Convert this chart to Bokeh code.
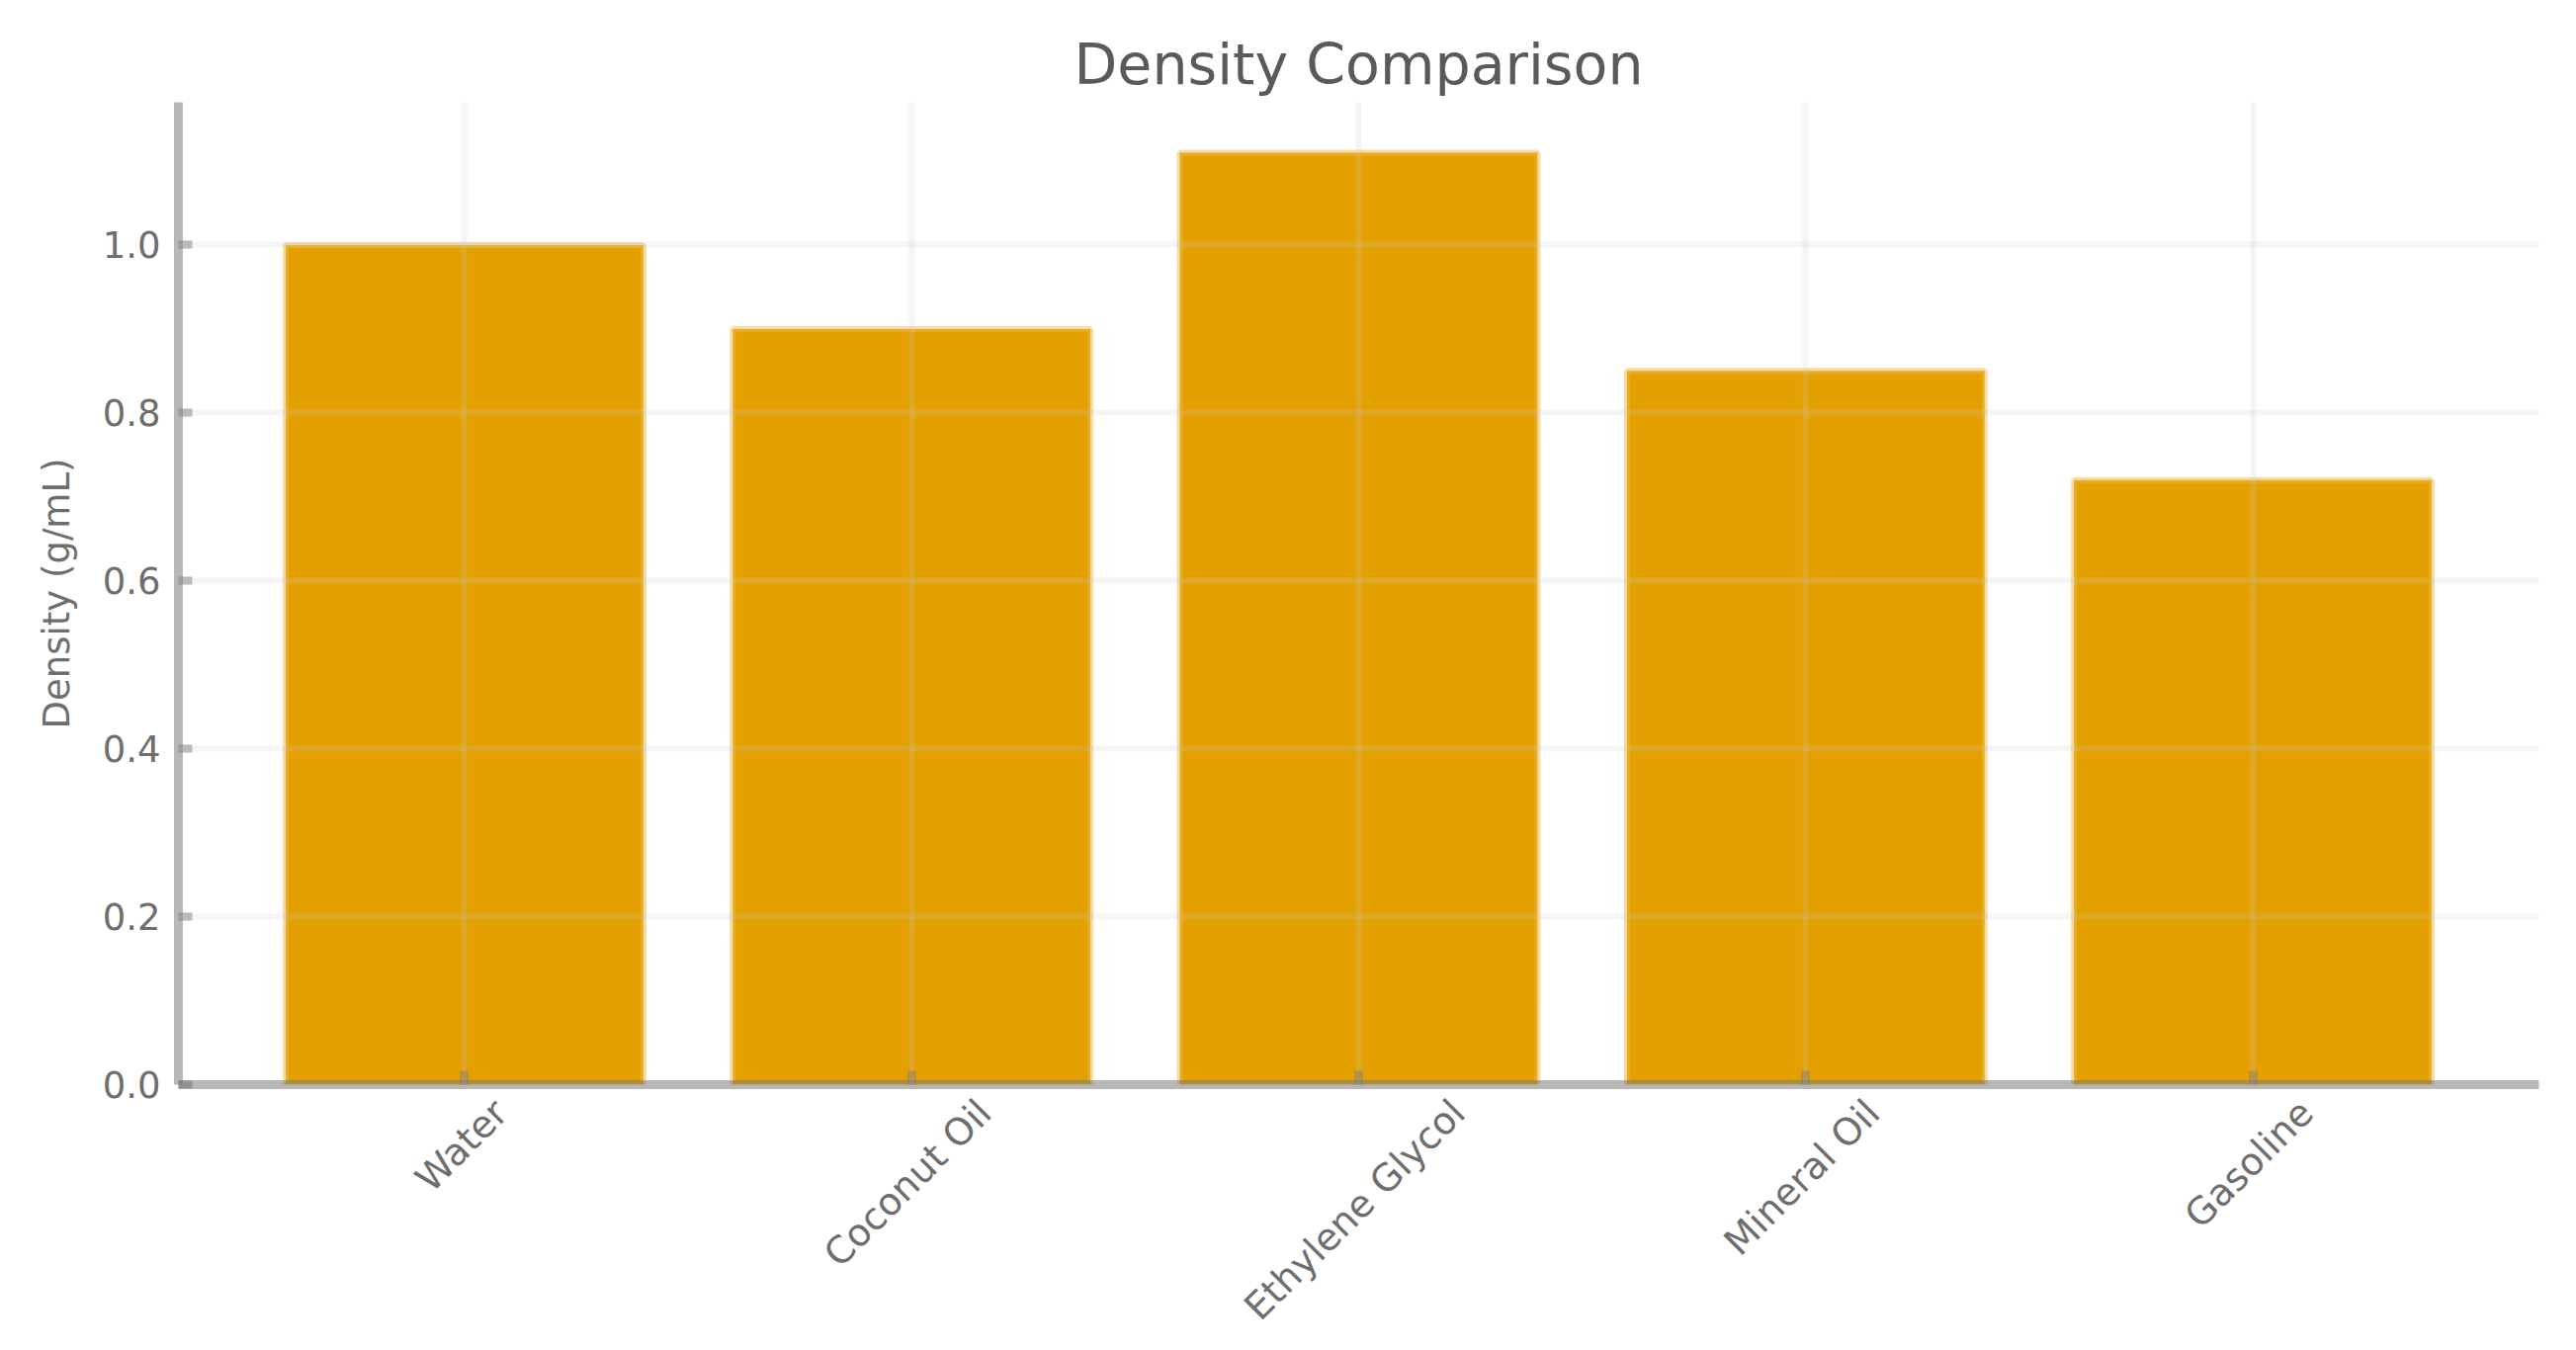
import math
from bokeh.plotting import figure
from bokeh.models import FixedTicker, NumeralTickFormatter, Range1d, LinearAxis
from bokeh.embed import file_html
from bokeh.resources import INLINE

# ---- data ----
categories = ["Water", "Coconut Oil", "Ethylene Glycol", "Mineral Oil", "Gasoline"]
density = [1.00, 0.90, 1.11, 0.85, 0.72]
y_ticks = [0.0, 0.2, 0.4, 0.6, 0.8, 1.0]
title_text = "Density Comparison"
y_label = "Density (g/mL)"

# ---- style / layout ----
FONT = "DejaVu Sans"
BAR = "#e3a000"
TICK_FS = 37
XLAB_FS = 38
TITLE_FS = 57
W = 2590
H = 1364
LEFT = 180
RIGHT = 22
TOP = 103
FRAME_BOTTOM = 1097
X_PAD = 0.64

idx = list(range(len(categories)))
x_start, x_end = -X_PAD, len(categories) - 1 + X_PAD

p = figure(
    width=W, height=H,
    output_backend="svg", toolbar_location=None,
    x_range=Range1d(x_start, x_end), y_range=Range1d(0, 1.17),
    min_border_left=LEFT, min_border_right=RIGHT,
    min_border_top=TOP, min_border_bottom=H - FRAME_BOTTOM,
    background_fill_color="white", border_fill_color="white",
    outline_line_color=None,
)

p.vbar(x=idx, top=density, width=0.8, bottom=0,
       fill_color=BAR, line_color="#eeb848", line_width=6, line_alpha=0.5)

# title
p.title.text = title_text
p.title.text_font = FONT
p.title.text_font_size = f"{TITLE_FS}px"
p.title.text_font_style = "normal"
p.title.text_color = "#5a5a5a"
p.title.align = "center"
p.title.standoff = 12

# axes (spines + inward ticks)
for ax in (p.xaxis[0], p.yaxis[0]):
    ax.axis_line_color = "#707070"
    ax.axis_line_alpha = 0.5
    ax.axis_line_width = 9
    ax.major_tick_line_color = "#707070"
    ax.major_tick_line_alpha = 0.5
    ax.major_tick_line_width = 8
    ax.major_tick_in = 14
    ax.major_tick_out = 0
    ax.minor_tick_line_color = None
    ax.major_label_text_font = FONT
    ax.major_label_text_font_size = f"{TICK_FS}px"
    ax.major_label_text_color = "#6e6e6e"

p.xaxis.ticker = FixedTicker(ticks=idx)
p.xaxis.major_label_overrides = {i: "" for i in idx}
p.xaxis.major_label_text_font_size = "0px"
p.xaxis.major_label_standoff = 0

p.yaxis.ticker = FixedTicker(ticks=y_ticks)
p.yaxis.formatter = NumeralTickFormatter(format="0.0")
p.yaxis.major_label_standoff = 18
p.yaxis.axis_label = y_label
p.yaxis.axis_label_text_font = FONT
p.yaxis.axis_label_text_font_size = f"{TICK_FS}px"
p.yaxis.axis_label_text_font_style = "normal"
p.yaxis.axis_label_text_color = "#6e6e6e"
p.yaxis.axis_label_standoff = 22

# faint grids drawn over the bars
for g in (p.xgrid[0], p.ygrid[0]):
    g.grid_line_color = "#c8c8c8"
    g.grid_line_alpha = 0.18
    g.grid_line_width = 6
    g.level = "overlay"
p.xgrid.ticker = FixedTicker(ticks=idx)

# ---- rotated category labels, centred under each bar like matplotlib (rotation=45) ----
# Bokeh anchors a rotated label at its right end, so each label is placed on a
# second (invisible) axis whose ticks are shifted by the label's half-extent.
EM = {"W": 989, "a": 613, "t": 392, "e": 615, "r": 411, "C": 698, "o": 612,
      "c": 550, "n": 634, "u": 634, " ": 318, "O": 787, "i": 278, "l": 278,
      "E": 632, "h": 634, "y": 592, "G": 775, "M": 863, "s": 521}

def text_width(s, fs):
    return sum(EM.get(ch, 600) for ch in s) / 1000.0 * fs

px_per_unit = (W - LEFT - RIGHT) / (x_end - x_start)
th = 1.164 * XLAB_FS
half_diag = math.sqrt(0.5) / 2.0
label_pos = []
for i, name in zip(idx, categories):
    shift_px = (text_width(name, XLAB_FS) - 0.25 * th) * half_diag
    label_pos.append(round(i + shift_px / px_per_unit, 4))

lab_axis = LinearAxis(
    ticker=FixedTicker(ticks=label_pos),
    major_label_overrides={pos: name for pos, name in zip(label_pos, categories)},
    major_label_orientation=math.pi / 4,
    major_label_standoff=22,
    major_label_text_font=FONT,
    major_label_text_font_size=f"{XLAB_FS}px",
    major_label_text_color="#6e6e6e",
    axis_line_color=None,
    major_tick_line_color=None,
    minor_tick_line_color=None,
    major_tick_in=0, major_tick_out=0,
)
p.add_layout(lab_axis, "below")

open("out.html", "w").write(file_html(p, INLINE))
